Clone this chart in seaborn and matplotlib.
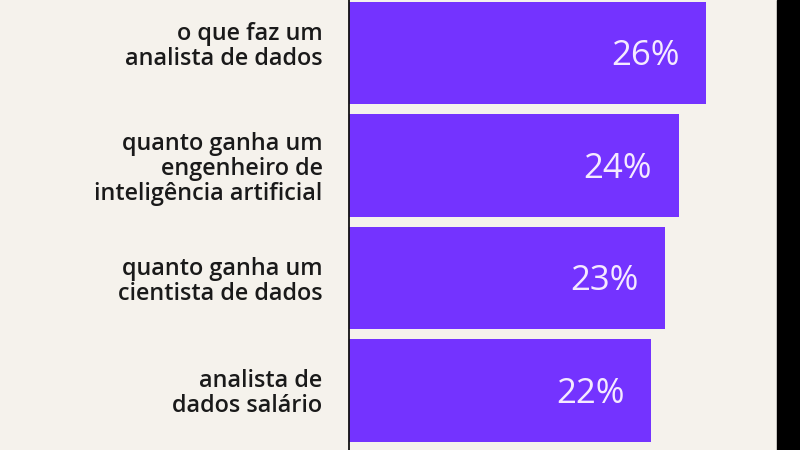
import pandas as pd
import seaborn as sns
import matplotlib.pyplot as plt
from matplotlib.patches import Rectangle
from matplotlib.transforms import ScaledTranslation

#data
searches = ['o que faz um\nanalista de dados',
            'quanto ganha um\nengenheiro de\ninteligência artificial',
            'quanto ganha um\ncientista de dados',
            'analista de\ndados salário']
share = [26, 24, 23, 22]

df = pd.DataFrame({'busca': searches, 'pct': share})

bg = '#f5f2ec'
purple = '#7433ff'

sns.set_theme(style='white')
plt.rcParams['font.family'] = ['Open Sans', 'DejaVu Sans']

fig = plt.figure(figsize=(8, 4.5), dpi=100, facecolor=bg)
ax = fig.add_axes([349 / 800, 0, (777 - 349) / 800, 1])
ax.set_facecolor(bg)

sns.barplot(data=df, x='pct', y='busca', orient='h', color=purple,
            saturation=1, width=0.915, linewidth=0, ax=ax)

ax.set_xlim(0, (777 - 349) / 13.73)
ax.set_ylim(3.529, -0.471)
ax.set_xlabel('')
ax.set_ylabel('')
ax.set_xticks([])

#tick labels on the left
ax.tick_params(axis='y', length=0, pad=19, labelsize=16.8, labelcolor='#1a1a1a')
for t in ax.get_yticklabels():
    t.set_fontweight('semibold')
    t.set_horizontalalignment('right')
    t.set_linespacing(1.05)

#first label sits a bit higher than its bar in the original
first = ax.get_yticklabels()[0]
first.set_transform(first.get_transform() + ScaledTranslation(0, 10 / 100, fig.dpi_scale_trans))

for s in ['top', 'right', 'bottom']:
    ax.spines[s].set_visible(False)
ax.spines['left'].set_color('#111111')
ax.spines['left'].set_linewidth(1.3)
ax.spines['left'].set_zorder(5)

#value labels inside the bar end
for i, v in enumerate(share):
    ax.annotate(f'{v}%', xy=(v, i), xytext=(-19, -2.2), textcoords='offset points',
                ha='right', va='center', fontsize=25, fontweight='medium',
                color='#f5eaff')

#black strip on the right edge
fig.patches.append(Rectangle((777 / 800, 0), 23 / 800, 1, transform=fig.transFigure,
                             color='black', zorder=10))

fig.savefig('out.png', dpi=100, facecolor=bg)
